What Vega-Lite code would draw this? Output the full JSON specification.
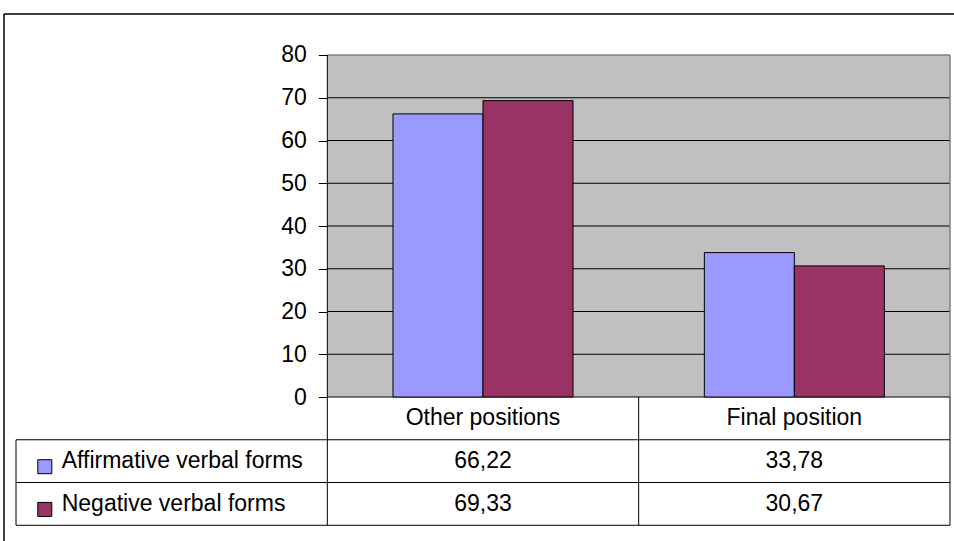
{
  "$schema": "https://vega.github.io/schema/vega-lite/v6.json",
  "width": 950,
  "height": 527,
  "autosize": {"type": "none"},
  "padding": {"left": 4, "top": 14, "right": 0, "bottom": 0},
  "background": "white",
  "config": {
    "view": {"stroke": null},
    "locale": {"number": {"decimal": ",", "thousands": ".", "grouping": [3], "currency": ["", ""]}},
    "text": {"font": "Liberation Sans", "fontSize": 23, "color": "#000000"}
  },
  "data": {"values": [
    {"position": "Other positions", "series": "Affirmative verbal forms", "value": 66.22},
    {"position": "Final position", "series": "Affirmative verbal forms", "value": 33.78},
    {"position": "Other positions", "series": "Negative verbal forms", "value": 69.33},
    {"position": "Final position", "series": "Negative verbal forms", "value": 30.67}
  ]},
  "layer": [
    {
      "data": {"values": [{}]},
      "mark": {"type": "rect", "fill": "#c0c0c0"},
      "encoding": {
        "x": {"datum": "Other positions", "type": "nominal", "bandPosition": 0,
              "scale": {"domain": ["legend", "Other positions", "Final position"], "paddingInner": 0, "paddingOuter": 0.0257, "align": 0.75},
              "axis": null},
        "x2": {"datum": "Final position", "bandPosition": 1},
        "y": {"datum": 0, "type": "quantitative",
              "scale": {"domain": [-33.68, 89.59], "nice": false, "zero": false},
              "axis": {"values": [0, 10, 20, 30, 40, 50, 60, 70, 80], "offset": -323.33, "domain": false, "grid": false,
                       "title": null, "tickSize": 9, "tickColor": "#000000", "tickWidth": 1, "labelPadding": 12,
                       "labelFont": "Liberation Sans", "labelFontSize": 23, "labelColor": "#000000"}},
        "y2": {"datum": 80}
      }
    },
    {
      "data": {"values": [{}]},
      "mark": {"type": "rule", "color": "#000000", "strokeWidth": 1.5},
      "encoding": {
        "y": {"datum": 89.59, "type": "quantitative"}
      }
    },
    {
      "data": {"values": [{}]},
      "mark": {"type": "rule", "color": "#000000", "strokeWidth": 1.5},
      "encoding": {
        "x": {"datum": "legend", "type": "nominal", "bandPosition": -0.0385}
      }
    },
    {
      "data": {"values": [{"tick": 0}, {"tick": 10}, {"tick": 20}, {"tick": 30}, {"tick": 40}, {"tick": 50}, {"tick": 60}, {"tick": 70}]},
      "mark": {"type": "rule", "color": "#000000", "strokeWidth": 1},
      "encoding": {
        "x": {"datum": "Other positions", "type": "nominal", "bandPosition": 0},
        "x2": {"datum": "Final position", "bandPosition": 1},
        "y": {"field": "tick", "type": "quantitative"}
      }
    },
    {
      "data": {"values": [{}]},
      "mark": {"type": "rule", "color": "#808080", "strokeWidth": 1.5},
      "encoding": {
        "x": {"datum": "Other positions", "type": "nominal", "bandPosition": 0},
        "x2": {"datum": "Final position", "bandPosition": 1},
        "y": {"datum": 80, "type": "quantitative"}
      }
    },
    {
      "data": {"values": [{}]},
      "mark": {"type": "rule", "color": "#808080", "strokeWidth": 1.5},
      "encoding": {
        "x": {"datum": "Final position", "type": "nominal", "bandPosition": 1},
        "y": {"datum": 0, "type": "quantitative"},
        "y2": {"datum": 80}
      }
    },
    {
      "mark": {"type": "bar", "stroke": "#000000", "strokeWidth": 1},
      "encoding": {
        "x": {"field": "position", "type": "nominal"},
        "xOffset": {"field": "series", "type": "nominal",
                    "scale": {"domain": ["Affirmative verbal forms", "Negative verbal forms"], "paddingInner": 0, "paddingOuter": 0.7296}},
        "y": {"field": "value", "type": "quantitative"},
        "color": {"field": "series", "type": "nominal",
                  "scale": {"domain": ["Affirmative verbal forms", "Negative verbal forms"], "range": ["#9999ff", "#993366"]},
                  "legend": null}
      }
    },
    {
      "data": {"values": [{}]},
      "mark": {"type": "rule", "color": "#000000", "strokeWidth": 1},
      "encoding": {
        "x": {"datum": "Other positions", "type": "nominal", "bandPosition": 0},
        "y": {"datum": -30, "type": "quantitative"},
        "y2": {"datum": 80}
      }
    },
    {
      "data": {"values": [{}]},
      "mark": {"type": "rule", "color": "#000000", "strokeWidth": 1},
      "encoding": {
        "x": {"datum": "legend", "type": "nominal", "bandPosition": 0},
        "x2": {"datum": "Final position", "bandPosition": 1},
        "y": {"datum": -10, "type": "quantitative"}
      }
    },
    {
      "data": {"values": [{}]},
      "mark": {"type": "rule", "color": "#000000", "strokeWidth": 1},
      "encoding": {
        "x": {"datum": "legend", "type": "nominal", "bandPosition": 0},
        "x2": {"datum": "Final position", "bandPosition": 1},
        "y": {"datum": -20, "type": "quantitative"}
      }
    },
    {
      "data": {"values": [{}]},
      "mark": {"type": "rule", "color": "#000000", "strokeWidth": 1},
      "encoding": {
        "x": {"datum": "legend", "type": "nominal", "bandPosition": 0},
        "x2": {"datum": "Final position", "bandPosition": 1},
        "y": {"datum": -30, "type": "quantitative"}
      }
    },
    {
      "data": {"values": [{}]},
      "mark": {"type": "rule", "color": "#000000", "strokeWidth": 1},
      "encoding": {
        "x": {"datum": "legend", "type": "nominal", "bandPosition": 0},
        "y": {"datum": -10, "type": "quantitative"},
        "y2": {"datum": -30}
      }
    },
    {
      "data": {"values": [{}]},
      "mark": {"type": "rule", "color": "#000000", "strokeWidth": 1},
      "encoding": {
        "x": {"datum": "Final position", "type": "nominal", "bandPosition": 0},
        "y": {"datum": 0, "type": "quantitative"},
        "y2": {"datum": -30}
      }
    },
    {
      "data": {"values": [{}]},
      "mark": {"type": "rule", "color": "#000000", "strokeWidth": 1},
      "encoding": {
        "x": {"datum": "Final position", "type": "nominal", "bandPosition": 1},
        "y": {"datum": 0, "type": "quantitative"},
        "y2": {"datum": -30}
      }
    },
    {
      "transform": [{"filter": "datum.series === 'Affirmative verbal forms'"}],
      "mark": {"type": "text", "baseline": "middle", "align": "center"},
      "encoding": {
        "x": {"field": "position", "type": "nominal"},
        "y": {"datum": -5, "type": "quantitative"},
        "text": {"field": "position"}
      }
    },
    {
      "transform": [{"filter": "datum.series === 'Affirmative verbal forms'"}],
      "mark": {"type": "text", "baseline": "middle", "align": "center"},
      "encoding": {
        "x": {"field": "position", "type": "nominal"},
        "y": {"datum": -15, "type": "quantitative"},
        "text": {"field": "value", "format": ".2f"}
      }
    },
    {
      "transform": [{"filter": "datum.series === 'Negative verbal forms'"}],
      "mark": {"type": "text", "baseline": "middle", "align": "center"},
      "encoding": {
        "x": {"field": "position", "type": "nominal"},
        "y": {"datum": -25, "type": "quantitative"},
        "text": {"field": "value", "format": ".2f"}
      }
    },
    {
      "transform": [{"filter": "datum.series === 'Affirmative verbal forms' && datum.position === 'Other positions'"}],
      "mark": {"type": "point", "shape": "square", "filled": true, "size": 196, "stroke": "#000000", "strokeWidth": 1, "opacity": 1},
      "encoding": {
        "x": {"datum": "legend", "type": "nominal", "bandPosition": 0.0925},
        "y": {"datum": -16.3, "type": "quantitative"},
        "color": {"field": "series", "type": "nominal"}
      }
    },
    {
      "transform": [{"filter": "datum.series === 'Negative verbal forms' && datum.position === 'Other positions'"}],
      "mark": {"type": "point", "shape": "square", "filled": true, "size": 196, "stroke": "#000000", "strokeWidth": 1, "opacity": 1},
      "encoding": {
        "x": {"datum": "legend", "type": "nominal", "bandPosition": 0.0925},
        "y": {"datum": -26.3, "type": "quantitative"},
        "color": {"field": "series", "type": "nominal"}
      }
    },
    {
      "transform": [{"filter": "datum.series === 'Affirmative verbal forms' && datum.position === 'Other positions'"}],
      "mark": {"type": "text", "baseline": "middle", "align": "left"},
      "encoding": {
        "x": {"datum": "legend", "type": "nominal", "bandPosition": 0.1468},
        "y": {"datum": -15, "type": "quantitative"},
        "text": {"field": "series"}
      }
    },
    {
      "transform": [{"filter": "datum.series === 'Negative verbal forms' && datum.position === 'Other positions'"}],
      "mark": {"type": "text", "baseline": "middle", "align": "left"},
      "encoding": {
        "x": {"datum": "legend", "type": "nominal", "bandPosition": 0.1468},
        "y": {"datum": -25, "type": "quantitative"},
        "text": {"field": "series"}
      }
    }
  ]
}
